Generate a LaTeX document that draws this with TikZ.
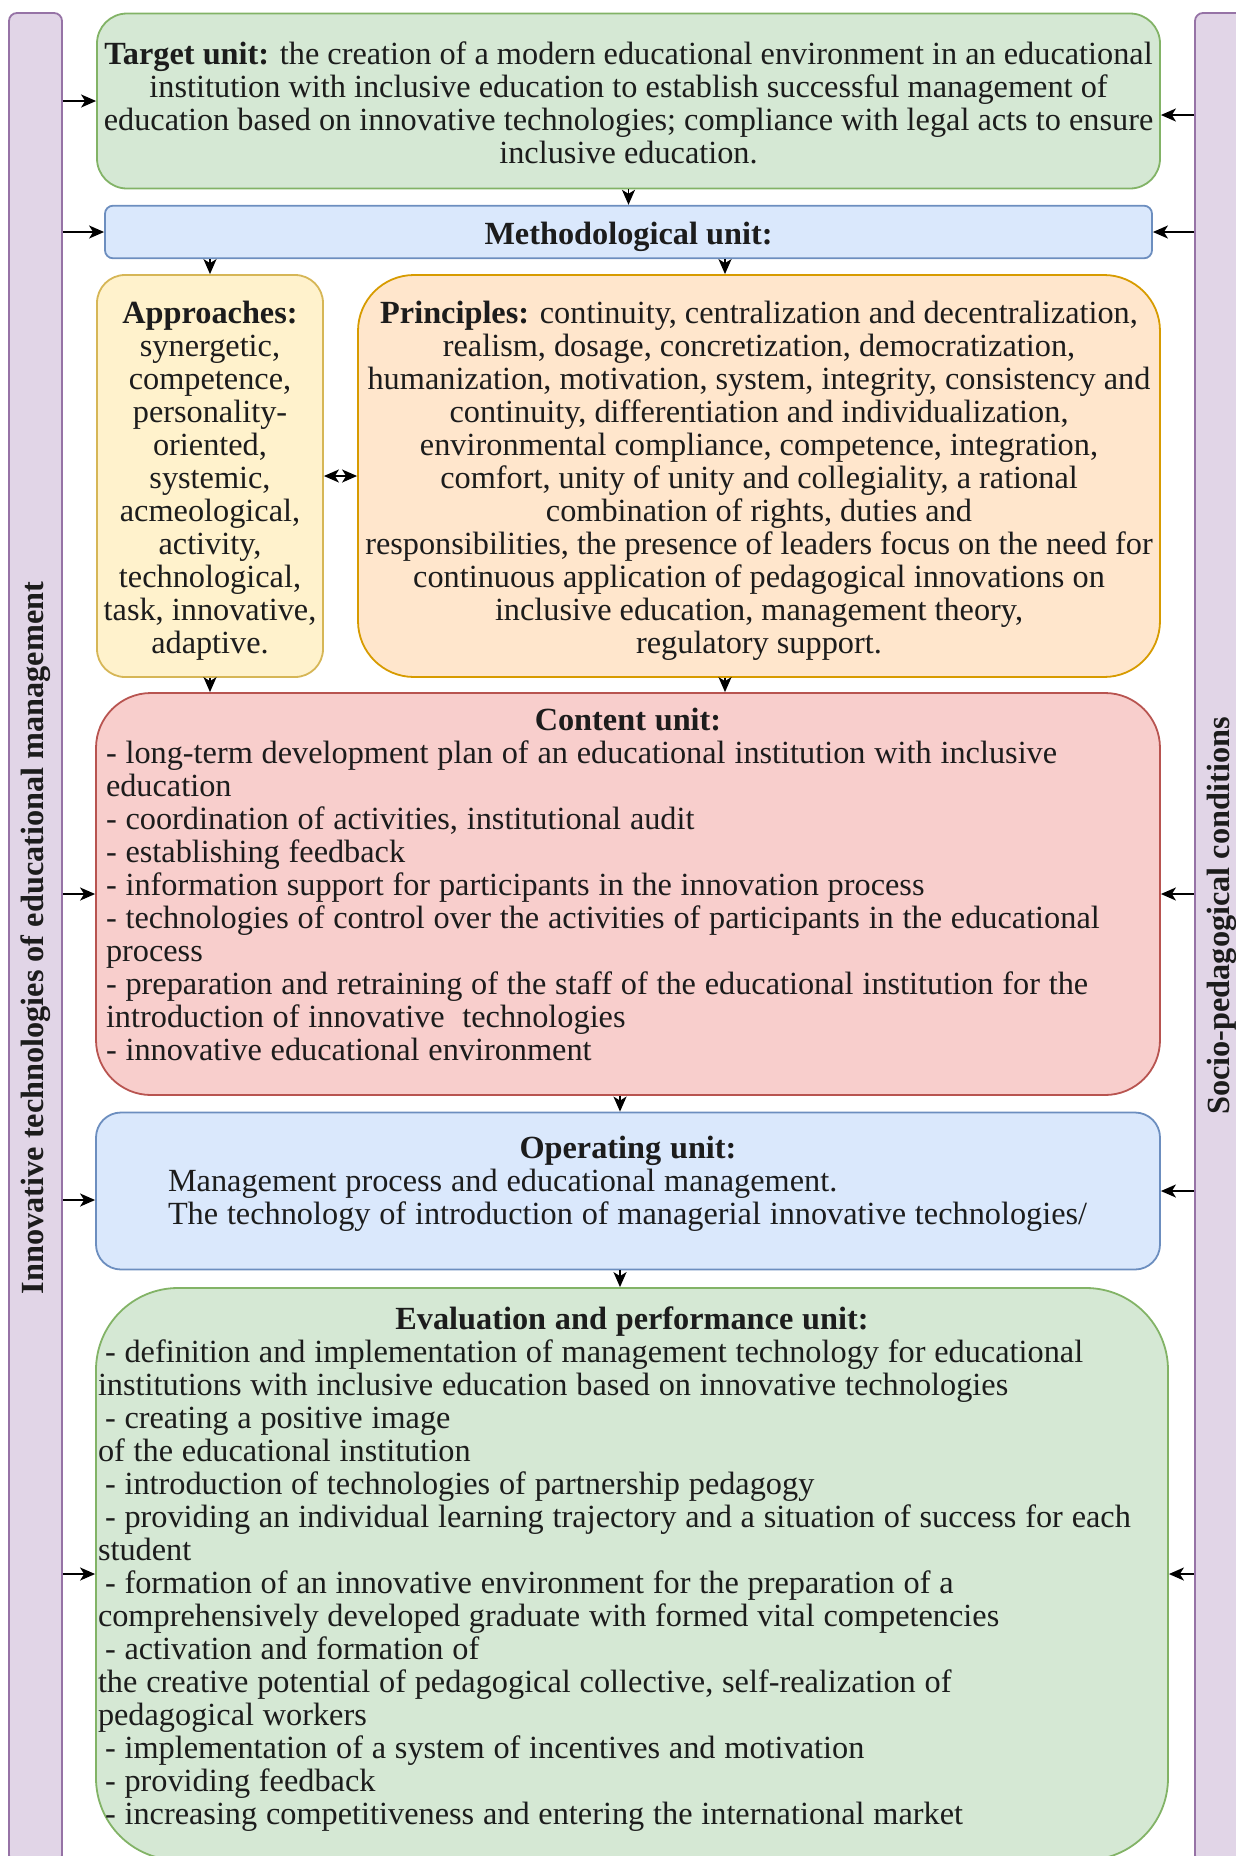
\documentclass[tikz,border=0pt]{standalone}
\usepackage{fontspec}
\setmainfont{Liberation Serif}
\usetikzlibrary{arrows.meta}

\definecolor{greenfill}{HTML}{D5E8D4}
\definecolor{greenline}{HTML}{82B366}
\definecolor{bluefill}{HTML}{DAE8FC}
\definecolor{blueline}{HTML}{6C8EBF}
\definecolor{yellowfill}{HTML}{FFF2CC}
\definecolor{yellowline}{HTML}{D6B656}
\definecolor{orangefill}{HTML}{FFE6CC}
\definecolor{orangeline}{HTML}{D79B00}
\definecolor{redfill}{HTML}{F8CECC}
\definecolor{redline}{HTML}{B85450}
\definecolor{purplefill}{HTML}{E1D5E7}
\definecolor{purpleline}{HTML}{9673A6}
\definecolor{ink}{HTML}{1C1C1C}

\begin{document}
\begin{tikzpicture}[x=1pt, y=-1pt, line width=1.8pt, >={Stealth[length=15pt,width=13pt,inset=4pt]}, font=\fontsize{32.3}{33}\selectfont, text=ink]
	\tikzstyle{unit}=[draw, inner sep=0pt]
	\tikzstyle{listtext}=[align=left, execute at begin node={\spaceskip=8.8pt\relax}]
	\tikzstyle{bar}=[draw=purpleline, fill=purplefill, rounded corners=8pt, minimum width=53pt, minimum height=1850pt]
	\useasboundingbox (0,0) rectangle (1236,1856);
	\clip (0,0) rectangle (1236,1856);
	
	% side bars
	\node[bar](lbar) at (35.5, 938){};
	\node[bar](rbar) at (1221.5, 938){};
	\node[rotate=90](ltext) at (35.5, 938){\textbf{Innovative technologies of educational management}};
	\node[rotate=90](rtext) at (1221.5, 916){\textbf{Socio-pedagogical conditions}};
	
	% units
	\node[unit, draw=greenline, fill=greenfill, rounded corners=30pt, minimum width=1063pt, minimum height=175pt, align=center](target) at (628.5, 101){\rule{0pt}{27pt}\textbf{Target unit:} the creation of a modern educational environment in an educational\\institution with inclusive education to establish successful management of\\education based on innovative technologies; compliance with legal acts to ensure\\inclusive education.};
	\node[unit, draw=blueline, fill=bluefill, rounded corners=8pt, minimum width=1047pt, minimum height=52.6pt](method) at (628.5, 232){\rule{0pt}{32pt}\textbf{Methodological unit:}};
	\node[unit, draw=yellowline, fill=yellowfill, rounded corners=28pt, minimum width=226pt, minimum height=402pt, align=center](approaches) at (210, 476){\rule{0pt}{32pt}\textbf{Approaches:}\\synergetic,\\competence,\\personality-\\oriented,\\systemic,\\acmeological,\\activity,\\technological,\\task, innovative,\\adaptive.};
	\node[unit, draw=orangeline, fill=orangefill, rounded corners=56pt, minimum width=802pt, minimum height=402pt, align=center](principles) at (759, 476){\rule{0pt}{32pt}\textbf{Principles:} continuity, centralization and decentralization,\\realism, dosage, concretization, democratization,\\humanization, motivation, system, integrity, consistency and\\continuity, differentiation and individualization,\\environmental compliance, competence, integration,\\comfort, unity of unity and collegiality, a rational\\combination of rights, duties and\\responsibilities, the presence of leaders focus on the need for\\continuous application of pedagogical innovations on\\inclusive education, management theory,\\regulatory support.};
	\node[unit, listtext, draw=redline, fill=redfill, rounded corners=55pt, minimum width=1064pt, minimum height=402pt, text width=1044pt](content) at (628, 894){\makebox[\linewidth]{\textbf{Content unit:}}\\
		- long-term development plan of an educational institution with inclusive\\
		education\\
		- coordination of activities, institutional audit\\
		- establishing feedback\\
		- information support for participants in the innovation process\\
		- technologies of control over the activities of participants in the educational\\
		process\\
		- preparation and retraining of the staff of the educational institution for the\\
		introduction of innovative~ technologies\\
		- innovative educational environment\rule[-20pt]{0pt}{0pt}};
	\node[unit, listtext, draw=blueline, fill=bluefill, rounded corners=25pt, minimum width=1064pt, minimum height=157pt, text width=920pt](operating) at (628, 1191){\makebox[\linewidth]{\textbf{Operating unit:}}\\
		\mbox{Management process and educational management.}\\
		\mbox{The technology of introduction of managerial innovative technologies/}\rule[-21pt]{0pt}{0pt}};
	\node[unit, listtext, draw=greenline, fill=greenfill, rounded corners=82pt, minimum width=1072pt, minimum height=572pt, text width=1068pt](evaluation) at (632, 1574){\makebox[\linewidth]{\textbf{Evaluation and performance unit:}}\\
		\hspace*{7pt}- definition and implementation of management technology for educational\\
		institutions with inclusive education based on innovative technologies\\
		\hspace*{7pt}- creating a positive image\\
		of the educational institution\\
		\hspace*{7pt}- introduction of technologies of partnership pedagogy\\
		\hspace*{7pt}- providing an individual learning trajectory and a situation of success for each\\
		student\\
		\hspace*{7pt}- formation of an innovative environment for the preparation of a\\
		comprehensively developed graduate with formed vital competencies\\
		\hspace*{7pt}- activation and formation of\\
		the creative potential of pedagogical collective, self-realization of\\
		pedagogical workers\\
		\hspace*{7pt}- implementation of a system of incentives and motivation\\
		\hspace*{7pt}- providing feedback\\
		\hspace*{7pt}- increasing competitiveness and entering the international market\rule[-17pt]{0pt}{0pt}};
	
	% shifted ends
	\coordinate (tr) at ([yshift=-14pt]target.east);
	\coordinate (ol) at ([yshift=-9pt]operating.west);
	\coordinate (pin) at ([xshift=-34pt]principles.north);
	\coordinate (pout) at ([xshift=-34pt]principles.south);
	\coordinate (cout) at ([xshift=-8pt]content.south);
	
	% arrows from the side bars
	\foreach \b in {target,method,content,evaluation}
	\path[->] (lbar.east |- \b.west) edge (\b.west);
	\path[->] (lbar.east |- ol) edge (ol);
	\foreach \b in {method,content,operating,evaluation}
	\path[->] (rbar.west |- \b.east) edge (\b.east);
	\path[->] (rbar.west |- tr) edge (tr);
	
	% arrows between units
	\path[->] (target.south) edge (method.north)
	(method.south -| approaches.north) edge (approaches.north)
	(method.south -| pin) edge (pin)
	(approaches.south) edge (approaches.south |- content.north)
	(pout) edge (pout |- content.north)
	(cout) edge (cout |- operating.north)
	(operating.south -| cout) edge (evaluation.north -| cout);
	\path[<->] (approaches.east) edge (principles.west);
\end{tikzpicture}
\end{document}
